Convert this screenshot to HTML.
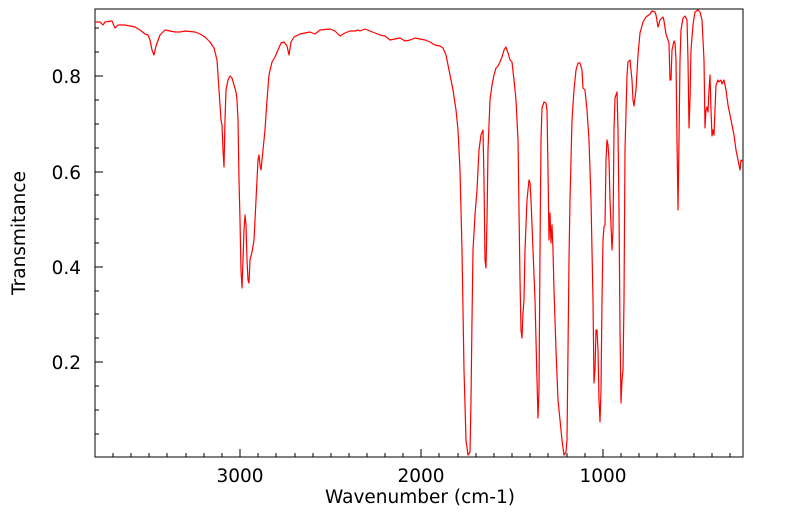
<!DOCTYPE html>
<html><head><meta charset="utf-8"><style>
body{margin:0;background:#fff;}
svg{display:block;font-family:"DejaVu Sans","Liberation Sans",sans-serif;}
</style></head><body>
<svg width="799" height="516" viewBox="0 0 799 516">
<rect x="95" y="9" width="648" height="448" fill="none" stroke="#000" stroke-width="1"/>
<g stroke="#000" stroke-width="1">
<line x1="95" y1="76" x2="103" y2="76"/><line x1="95" y1="172" x2="103" y2="172"/><line x1="95" y1="267" x2="103" y2="267"/><line x1="95" y1="362" x2="103" y2="362"/>
<line x1="95" y1="28" x2="99" y2="28"/><line x1="95" y1="52" x2="99" y2="52"/><line x1="95" y1="100" x2="99" y2="100"/><line x1="95" y1="124" x2="99" y2="124"/><line x1="95" y1="148" x2="99" y2="148"/><line x1="95" y1="195" x2="99" y2="195"/><line x1="95" y1="219" x2="99" y2="219"/><line x1="95" y1="243" x2="99" y2="243"/><line x1="95" y1="291" x2="99" y2="291"/><line x1="95" y1="314" x2="99" y2="314"/><line x1="95" y1="338" x2="99" y2="338"/><line x1="95" y1="386" x2="99" y2="386"/><line x1="95" y1="410" x2="99" y2="410"/><line x1="95" y1="434" x2="99" y2="434"/>
<line x1="240" y1="457" x2="240" y2="449"/><line x1="421" y1="457" x2="421" y2="449"/><line x1="603" y1="457" x2="603" y2="449"/>
</g>
<g font-size="18.5" fill="#000">
<text x="81" y="83" text-anchor="end">0.8</text>
<text x="81" y="179" text-anchor="end">0.6</text>
<text x="81" y="274" text-anchor="end">0.4</text>
<text x="81" y="369" text-anchor="end">0.2</text>
<text x="240" y="482" text-anchor="middle">3000</text>
<text x="421" y="482" text-anchor="middle">2000</text>
<text x="603" y="482" text-anchor="middle">1000</text>
<text x="420" y="503" text-anchor="middle">Wavenumber (cm-1)</text>
<text transform="translate(25,233) rotate(-90)" text-anchor="middle">Transmitance</text>
</g>
<polyline fill="none" stroke="#ff0000" stroke-width="1.2" stroke-linejoin="round" points="95,22 100,22 103,25 105,22 112,21 115,28 118,25 125,25 135,27 140,30 145,34 148,35 150,40 152,50 154,55 156,46 160,35 165,30 170,31 175,32 180,32 185,31 195,32 200,34 205,37 210,42 214,48 217,60 219,90 221,120 222,125 223,150 224,167 225,120 226,90 228,80 230,76 232,78 234,85 236,92 237,100 238,120 239,180 240,220 241,270 242,288 243,260 244,230 245,215 246,225 247,260 248,280 249,283 250,260 252,252 254,240 256,200 258,160 259,155 260,165 261,170 262,160 264,140 265,130 267,100 269,75 272,62 275,57 278,50 281,43 284,42 287,46 289,55 291,42 294,37 300,34 310,32 315,34 320,30 330,29 335,31 340,36 345,33 350,31 355,31 358,30 360,31 365,29 370,31 375,33 380,35 385,36 390,40 395,39 400,38 405,41 410,40 415,38 420,39 425,40 430,42 435,45 440,46 443,48 446,55 450,75 453,90 456,110 458,130 460,170 462,250 464,370 466,440 468,455 470,452 471,400 472,320 473,250 475,215 477,190 479,150 481,135 483,130 484,180 485,260 486,268 487,220 488,150 490,100 492,85 494,75 496,68 498,66 500,62 502,57 504,50 506,47 508,53 510,60 512,62 514,80 516,100 518,140 520,280 521,330 522,338 523,313 524,300 525,250 527,200 529,180 530,183 531,200 533,250 535,300 537,380 538,418 539,390 540,250 541,140 542,108 544,102 546,103 547,110 548,170 549,240 550,213 551,243 552,225 553,250 554,290 556,350 558,400 560,420 562,440 564,455 566,452 567,440 568,350 569,260 570,200 572,120 574,90 576,70 578,63 580,63 582,70 583,88 585,90 587,110 589,140 591,200 593,300 594,383 595,370 596,330 597,330 598,350 599,400 600,422 601,390 602,300 603,240 604,227 605,225 606,160 607,140 608,145 609,160 610,200 612,250 613,230 614,130 615,98 617,92 618,130 619,210 620,330 621,403 622,380 623,370 624,300 625,150 627,75 628,62 630,60 632,80 633,100 634,106 636,90 638,55 640,33 643,22 646,17 650,14 652,11 655,12 656,15 658,27 659,24 660,20 662,18 663,17 664,21 666,34 668,40 669,43 670,80 671,80 672,50 674,41 675,43 676,60 677,140 678,210 679,140 680,60 681,30 683,18 685,16 687,20 688,60 689,128 690,100 691,50 693,25 695,12 698,10 700,12 702,20 704,60 705,128 706,110 707,107 708,112 709,90 710,75 711,110 712,136 713,130 714,135 716,85 718,80 719,82 721,80 722,84 724,80 726,90 728,105 730,115 732,125 734,135 736,150 738,160 739,165 740,170 741,160 743,162"/>
<g stroke="#000" stroke-width="1">
<line x1="113" y1="457" x2="113" y2="453"/><line x1="131" y1="457" x2="131" y2="453"/><line x1="149" y1="457" x2="149" y2="453"/><line x1="167" y1="457" x2="167" y2="453"/><line x1="186" y1="457" x2="186" y2="453"/><line x1="204" y1="457" x2="204" y2="453"/><line x1="222" y1="457" x2="222" y2="453"/>
<line x1="258" y1="457" x2="258" y2="453"/><line x1="276" y1="457" x2="276" y2="453"/><line x1="295" y1="457" x2="295" y2="453"/><line x1="313" y1="457" x2="313" y2="453"/><line x1="331" y1="457" x2="331" y2="453"/><line x1="349" y1="457" x2="349" y2="453"/><line x1="367" y1="457" x2="367" y2="453"/><line x1="385" y1="457" x2="385" y2="453"/><line x1="403" y1="457" x2="403" y2="453"/>
<line x1="439" y1="457" x2="439" y2="453"/><line x1="458" y1="457" x2="458" y2="453"/><line x1="476" y1="457" x2="476" y2="453"/><line x1="494" y1="457" x2="494" y2="453"/><line x1="512" y1="457" x2="512" y2="453"/><line x1="530" y1="457" x2="530" y2="453"/><line x1="548" y1="457" x2="548" y2="453"/><line x1="567" y1="457" x2="567" y2="453"/><line x1="585" y1="457" x2="585" y2="453"/>
<line x1="621" y1="457" x2="621" y2="453"/><line x1="639" y1="457" x2="639" y2="453"/><line x1="657" y1="457" x2="657" y2="453"/><line x1="675" y1="457" x2="675" y2="453"/><line x1="694" y1="457" x2="694" y2="453"/><line x1="712" y1="457" x2="712" y2="453"/><line x1="730" y1="457" x2="730" y2="453"/>
</g>
</svg>
</body></html>
